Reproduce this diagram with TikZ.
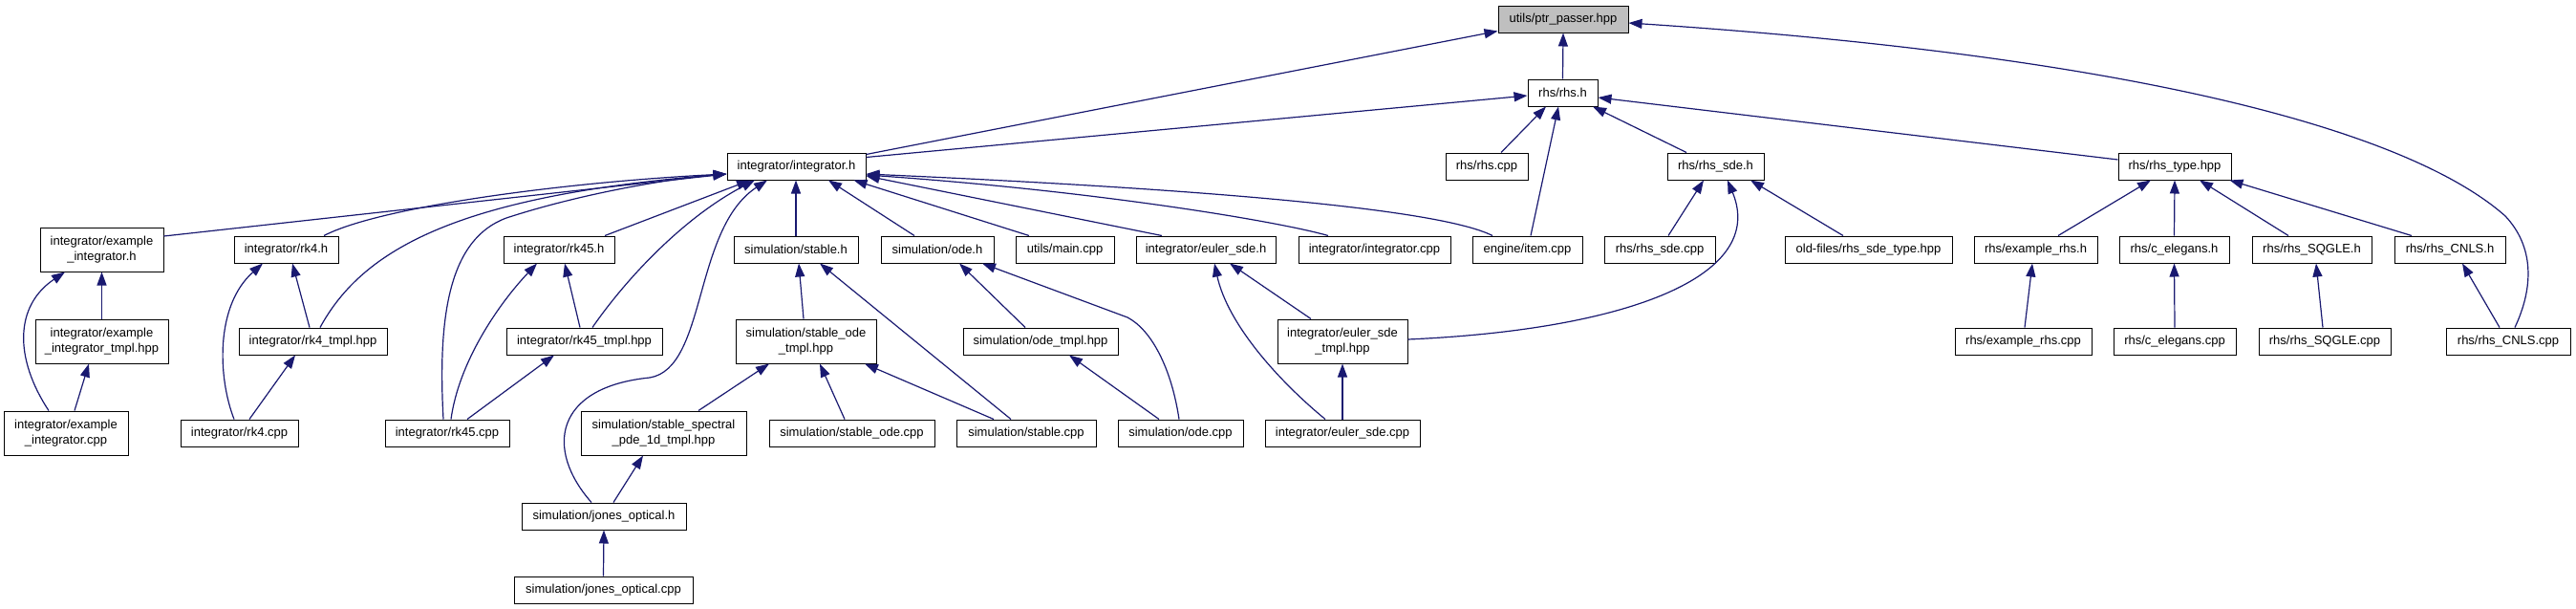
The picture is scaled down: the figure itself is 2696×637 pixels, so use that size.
\documentclass[tikz,border=0pt]{standalone}
\usepackage{fontspec}
\setmainfont{Liberation Sans}
\usetikzlibrary{arrows.meta}
\definecolor{mblue}{HTML}{191970}
\definecolor{rootgray}{HTML}{BFBFBF}
\tikzset{
  filebox/.style={draw=black, line width=1pt, fill=white, inner sep=0pt, minimum height=28pt, align=center, font=\fontsize{13}{16.5}\selectfont},
  twoline/.style={minimum height=46pt},
  rootbox/.style={filebox, fill=rootgray},
  dep/.style={draw=mblue, line width=1.2pt, -{Triangle[length=14pt,width=10pt]}}
}
\begin{document}
\begin{tikzpicture}[x=1pt,y=-1pt]
\useasboundingbox (0,0) rectangle (2696,637);
% rank 0-2
\node[rootbox, minimum width=136pt] (ptr) at (1636,20) {utils/ptr\_passer.hpp};
\node[filebox, minimum width=73pt] (rhsh) at (1635.5,97) {rhs/rhs.h};
\node[filebox, minimum width=145pt] (integ) at (833.5,174) {integrator/integrator.h};
\node[filebox, minimum width=86pt] (rhscpp) at (1556,174) {rhs/rhs.cpp};
\node[filebox, minimum width=101pt] (rhssde) at (1795.5,174) {rhs/rhs\_sde.h};
\node[filebox, minimum width=118pt] (rhstype) at (2276,174) {rhs/rhs\_type.hpp};
% rank 3
\node[filebox, twoline, minimum width=129pt] (exinth) at (106.5,261) {integrator/example\\\_integrator.h};
\node[filebox, minimum width=109pt] (rk4h) at (299.5,261) {integrator/rk4.h};
\node[filebox, minimum width=116pt] (rk45h) at (585,261) {integrator/rk45.h};
\node[filebox, minimum width=130pt] (stableh) at (833,261) {simulation/stable.h};
\node[filebox, minimum width=118pt] (odeh) at (981,261) {simulation/ode.h};
\node[filebox, minimum width=103pt] (maincpp) at (1114.5,261) {utils/main.cpp};
\node[filebox, minimum width=146pt] (eulerh) at (1262,261) {integrator/euler\_sde.h};
\node[filebox, minimum width=159pt] (integcpp) at (1438.5,261) {integrator/integrator.cpp};
\node[filebox, minimum width=115pt] (itemcpp) at (1598.5,261) {engine/item.cpp};
\node[filebox, minimum width=116pt] (rhssdecpp) at (1737,261) {rhs/rhs\_sde.cpp};
\node[filebox, minimum width=175pt] (oldfiles) at (1955.5,261) {old-files/rhs\_sde\_type.hpp};
\node[filebox, minimum width=129pt] (exrhsh) at (2130.5,261) {rhs/example\_rhs.h};
\node[filebox, minimum width=115pt] (celh) at (2275.5,261) {rhs/c\_elegans.h};
\node[filebox, minimum width=125pt] (sqgleh) at (2419.5,261) {rhs/rhs\_SQGLE.h};
\node[filebox, minimum width=116pt] (cnlsh) at (2564,261) {rhs/rhs\_CNLS.h};
% rank 4
\node[filebox, twoline, minimum width=139pt] (exinttmpl) at (106.5,357) {integrator/example\\\_integrator\_tmpl.hpp};
\node[filebox, minimum width=155pt] (rk4tmpl) at (327.5,357) {integrator/rk4\_tmpl.hpp};
\node[filebox, minimum width=163pt] (rk45tmpl) at (611.5,357) {integrator/rk45\_tmpl.hpp};
\node[filebox, twoline, minimum width=147pt] (stodetmpl) at (843.5,357) {simulation/stable\_ode\\\_tmpl.hpp};
\node[filebox, minimum width=162pt] (odetmpl) at (1089,357) {simulation/ode\_tmpl.hpp};
\node[filebox, twoline, minimum width=136pt] (eulertmpl) at (1405,357) {integrator/euler\_sde\\\_tmpl.hpp};
\node[filebox, minimum width=143pt] (exrhscpp) at (2117.5,357) {rhs/example\_rhs.cpp};
\node[filebox, minimum width=128pt] (celcpp) at (2276,357) {rhs/c\_elegans.cpp};
\node[filebox, minimum width=138pt] (sqglecpp) at (2433,357) {rhs/rhs\_SQGLE.cpp};
\node[filebox, minimum width=130pt] (cnlscpp) at (2625,357) {rhs/rhs\_CNLS.cpp};
% rank 5
\node[filebox, twoline, minimum width=130pt] (exintcpp) at (69,453) {integrator/example\\\_integrator.cpp};
\node[filebox, minimum width=123pt] (rk4cpp) at (250.5,453) {integrator/rk4.cpp};
\node[filebox, minimum width=130pt] (rk45cpp) at (468,453) {integrator/rk45.cpp};
\node[filebox, twoline, minimum width=173pt] (spectral) at (694.5,453) {simulation/stable\_spectral\\\_pde\_1d\_tmpl.hpp};
\node[filebox, minimum width=173pt] (stodecpp) at (891.5,453) {simulation/stable\_ode.cpp};
\node[filebox, minimum width=146pt] (stablecpp) at (1074,453) {simulation/stable.cpp};
\node[filebox, minimum width=131pt] (odecpp) at (1235.5,453) {simulation/ode.cpp};
\node[filebox, minimum width=162pt] (eulercpp) at (1405,453) {integrator/euler\_sde.cpp};
% rank 6-7
\node[filebox, minimum width=172pt] (jonesh) at (632,540) {simulation/jones\_optical.h};
\node[filebox, minimum width=187pt] (jonescpp) at (631.5,617) {simulation/jones\_optical.cpp};

% edges into ptr_passer
\draw[dep] (rhsh.north) -- (ptr.south);
\draw[dep] ([yshift=-2pt]integ.north east) -- ([yshift=2pt]ptr.south west);
\draw[dep] ([xshift=7pt]cnlscpp.north) .. controls (2652,300) and (2652,258) .. (2622,226) .. controls (2525,140) and (2250,60) .. ([yshift=-4pt]ptr.east);
% edges into rhs.h
\draw[dep] ([yshift=-5pt]integ.north east) -- ([yshift=-3pt]rhsh.west);
\draw[dep] ([xshift=15pt]rhscpp.north) -- ([xshift=-17.5pt]rhsh.south);
\draw[dep] ([xshift=3.5pt]itemcpp.north) -- ([xshift=-4.5pt]rhsh.south);
\draw[dep] ([xshift=-30.5pt]rhssde.north) -- ([xshift=31.5pt]rhsh.south);
\draw[dep] ([yshift=7pt]rhstype.west) -- ([yshift=-5pt]rhsh.east);
% edges into integrator.h
\draw[dep] ([yshift=14pt]exinth.east) -- ([yshift=-8pt]integ.west);
\draw[dep] ([xshift=39.5pt]rk4h.north) .. controls (400,215) and (600,190) .. ([yshift=-8pt]integ.west);
\draw[dep] ([xshift=7.5pt]rk4tmpl.north) .. controls (380,260) and (480,205) .. ([yshift=-8pt]integ.west);
\draw[dep] ([xshift=-4pt]rk45cpp.north) .. controls (458,330) and (470,250) .. (530,228) .. controls (600,205) and (690,188) .. ([yshift=-8pt]integ.west);
\draw[dep] ([xshift=48pt]rk45h.north) -- ([xshift=-48.5pt]integ.south);
\draw[dep] ([xshift=8.5pt]rk45tmpl.north) .. controls (660,285) and (720,225) .. ([xshift=-43.5pt]integ.south);
\draw[dep] ([xshift=-13pt]jonesh.north) .. controls (570,470) and (580,405) .. (680,395) .. controls (740,385) and (725,240) .. ([xshift=-30.5pt]integ.south);
\draw[dep] (stableh.north) -- ([xshift=-0.5pt]integ.south);
\draw[dep] ([xshift=-24pt]odeh.north) -- ([xshift=33.5pt]integ.south);
\draw[dep] ([xshift=-37.5pt]maincpp.north) -- ([xshift=-13pt]integ.south east);
\draw[dep] ([xshift=-46pt]eulerh.north) -- ([yshift=-10pt]integ.east);
\draw[dep] ([xshift=-48.5pt]integcpp.north) .. controls (1340,232) and (1150,200) .. ([yshift=-9pt]integ.east);
\draw[dep] ([xshift=-36.5pt]itemcpp.north) .. controls (1500,215) and (1200,195) .. ([yshift=-8pt]integ.east);
% example_integrator
\draw[dep] (exinttmpl.north) -- (exinth.south);
\draw[dep] ([xshift=-18pt]exintcpp.north) .. controls (15,375) and (15,320) .. ([xshift=-38.5pt]exinth.south);
\draw[dep] ([xshift=9pt]exintcpp.north) -- ([xshift=-13.5pt]exinttmpl.south);
% rk4
\draw[dep] ([xshift=-5.5pt]rk4cpp.north) .. controls (228,395) and (225,320) .. ([xshift=-24.5pt]rk4h.south);
\draw[dep] ([xshift=-3.5pt]rk4tmpl.north) -- ([xshift=6.5pt]rk4h.south);
\draw[dep] ([xshift=10.5pt]rk4cpp.north) -- ([xshift=-18.5pt]rk4tmpl.south);
% rk45
\draw[dep] ([xshift=-4.5pt]rk45tmpl.north) -- ([xshift=6pt]rk45h.south);
\draw[dep] ([xshift=4pt]rk45cpp.north) .. controls (480,380) and (520,320) .. ([xshift=-23pt]rk45h.south);
\draw[dep] ([xshift=21pt]rk45cpp.north) -- ([xshift=-31.5pt]rk45tmpl.south);
% stable
\draw[dep] ([xshift=-2.5pt]stodetmpl.north) -- ([xshift=3pt]stableh.south);
\draw[dep] ([xshift=-16pt]stablecpp.north) -- ([xshift=25pt]stableh.south);
\draw[dep] ([xshift=36.5pt]spectral.north) -- ([xshift=-38.5pt]stodetmpl.south);
\draw[dep] ([xshift=-7.5pt]stodecpp.north) -- ([xshift=14.5pt]stodetmpl.south);
\draw[dep] ([xshift=-34pt]stablecpp.north) -- ([xshift=61.5pt]stodetmpl.south);
\draw[dep] ([xshift=10pt]jonesh.north) -- ([xshift=-21.5pt]spectral.south);
\draw[dep] (jonescpp.north) -- (jonesh.south);
% ode
\draw[dep] ([xshift=-16pt]odetmpl.north) -- ([xshift=23pt]odeh.south);
\draw[dep] ([xshift=-1.5pt]odecpp.north) .. controls (1226,385) and (1205,345) .. (1180,332) -- ([xshift=47pt]odeh.south);
\draw[dep] ([xshift=-22.5pt]odecpp.north) -- ([xshift=30pt]odetmpl.south);
% euler
\draw[dep] ([xshift=-33pt]eulertmpl.north) -- ([xshift=25pt]eulerh.south);
\draw[dep] ([xshift=-18pt]eulercpp.north) .. controls (1340,400) and (1285,340) .. ([xshift=9pt]eulerh.south);
\draw[dep] (eulercpp.north) -- (eulertmpl.south);
\draw[dep] ([yshift=2pt]eulertmpl.east) .. controls (1700,345) and (1850,290) .. ([xshift=12.5pt]rhssde.south);
% rhs_sde
\draw[dep] ([xshift=9pt]rhssdecpp.north) -- ([xshift=-12.5pt]rhssde.south);
\draw[dep] ([xshift=-26.5pt]oldfiles.north) -- ([xshift=36.5pt]rhssde.south);
% rhs_type
\draw[dep] ([xshift=23.5pt]exrhsh.north) -- ([xshift=-25pt]rhstype.south);
\draw[dep] (celh.north) -- (rhstype.south);
\draw[dep] ([xshift=-24.5pt]sqgleh.north) -- ([xshift=26pt]rhstype.south);
\draw[dep] ([xshift=-40pt]cnlsh.north) -- ([xshift=-2pt]rhstype.south east);
\draw[dep] ([xshift=1.5pt]exrhscpp.north) -- ([xshift=-3.5pt]exrhsh.south);
\draw[dep] (celcpp.north) -- (celh.south);
\draw[dep] ([xshift=-2pt]sqglecpp.north) -- ([xshift=4.5pt]sqgleh.south);
\draw[dep] ([xshift=-9pt]cnlscpp.north) -- ([xshift=13pt]cnlsh.south);
\end{tikzpicture}
\end{document}
